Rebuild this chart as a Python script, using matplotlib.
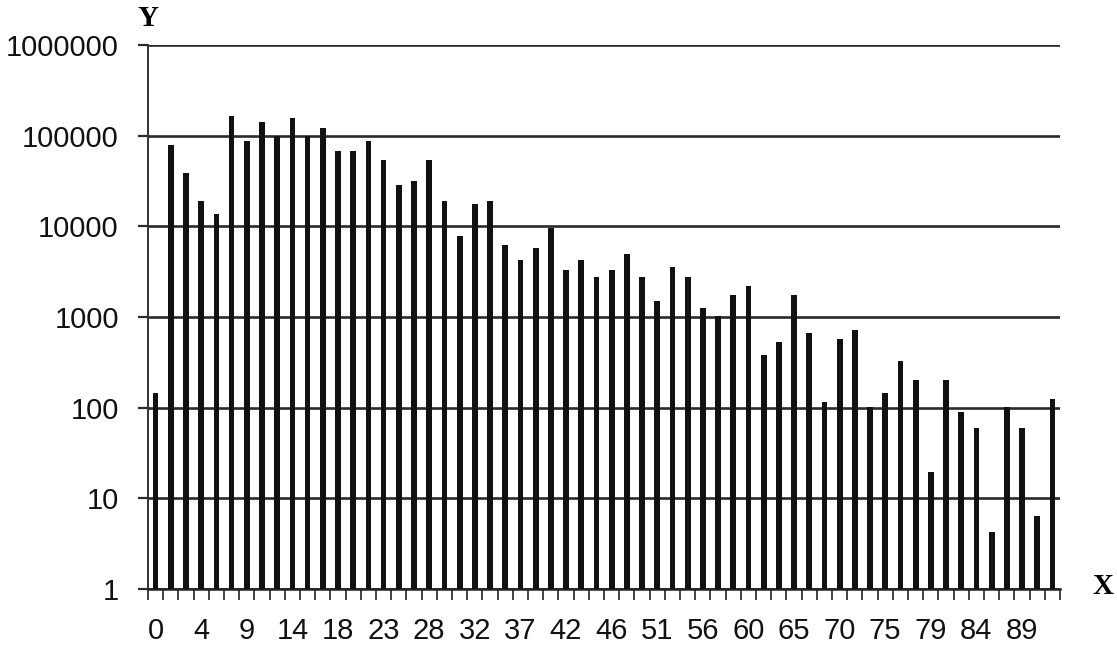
import matplotlib
matplotlib.use("Agg")
import matplotlib.pyplot as plt
import numpy as np

# bar heights, left to right
counts = [147, 79400, 39000, 19100, 13800, 166000, 86700, 140000, 99000, 155000,
          98000, 121000, 68500, 68500, 86700, 54100, 28800, 31400, 54100, 19100,
          7900, 17600, 19100, 6250, 4210, 5750, 9700, 3270, 4210, 2770,
          3270, 4940, 2790, 1500, 3600, 2790, 1270, 1030, 1730, 2190,
          382, 525, 1730, 665, 115, 566, 716, 102, 145, 325,
          200, 19.7, 200, 88.5, 60, 4.3, 102, 60, 6.4, 124]

x_labels = ["0", "4", "9", "14", "18", "23", "28", "32", "37", "42",
            "46", "51", "56", "60", "65", "70", "75", "79", "84", "89"]
y_ticks = [1, 10, 100, 1000, 10000, 100000, 1000000]
y_labels = ["1", "10", "100", "1000", "10000", "100000", "1000000"]

fig = plt.figure(figsize=(11.17, 6.71), dpi=100)
ax = fig.add_axes([0.1325, 0.1222, 0.8165, 0.8107])

pos = np.arange(len(counts))
ax.bar(pos, counts, width=0.38, color="#111111", zorder=3)

ax.set_yscale("log")
ax.set_ylim(1, 1000000)
ax.set_xlim(-0.5, len(counts) - 0.5)

ax.set_yticks(y_ticks)
ax.set_yticklabels(y_labels)
ax.yaxis.set_minor_locator(matplotlib.ticker.NullLocator())
ax.grid(axis="y", which="major", color="#2a2a2a", linewidth=1.9, zorder=1)

ax.set_xticks(pos[::3])
ax.set_xticklabels(x_labels)
ax.set_xticks(np.append(pos, len(counts)) - 0.5, minor=True)

ax.tick_params(axis="x", which="major", length=0, pad=20)
ax.tick_params(axis="x", which="minor", length=8, width=1.2, color="#222222", direction="out")
ax.tick_params(axis="y", which="major", length=7, width=1.6, color="#2a2a2a", pad=14)
ax.tick_params(labelsize=21)
for lab in ax.get_xticklabels() + ax.get_yticklabels():
    lab.set_family("Liberation Sans")
    lab.set_color("#111111")

for side in ["top", "right"]:
    ax.spines[side].set_visible(False)
ax.spines["left"].set_color("#333333")
ax.spines["left"].set_linewidth(1.4)
ax.spines["bottom"].set_color("#222222")
ax.spines["bottom"].set_linewidth(1.8)

fig.text(148 / 1117, 1 - 18 / 671, "Y", family="Liberation Serif", weight="bold",
         fontsize=21, ha="center", va="center")
fig.text(1103 / 1117, 1 - 587 / 671, "X", family="Liberation Serif", weight="bold",
         fontsize=21, ha="center", va="center")

fig.savefig("out.png", dpi=100)
